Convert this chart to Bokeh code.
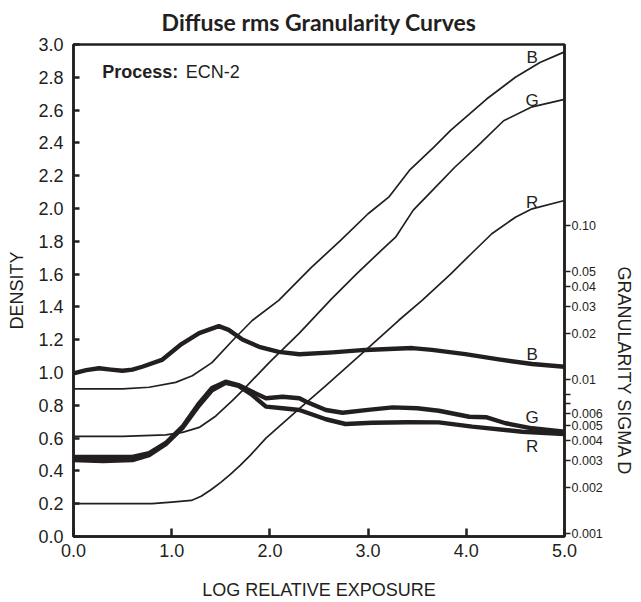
import math
from bokeh.plotting import figure
from bokeh.models import Range1d, LogAxis, FixedTicker, PrintfTickFormatter, Label, LogScale, Title
from bokeh.embed import file_html
from bokeh.resources import INLINE

# ---------------- data ----------------
# Characteristic (density) curves, thin lines, left axis
DENS_B_X = [0, 0.5, 0.77, 1.04, 1.21, 1.41, 1.62, 1.82, 2.09, 2.42, 2.72, 3.0, 3.21, 3.42, 3.67, 3.84, 4.21, 4.5, 4.75, 5.0]
DENS_B_Y = [0.90, 0.90, 0.91, 0.94, 0.98, 1.06, 1.195, 1.317, 1.44, 1.64, 1.805, 1.968, 2.069, 2.232, 2.374, 2.476, 2.669, 2.80, 2.89, 2.955]

DENS_G_X = [0, 0.5, 0.94, 1.11, 1.28, 1.45, 1.62, 1.72, 2.0, 2.3, 2.63, 2.88, 3.17, 3.28, 3.46, 3.67, 3.88, 4.13, 4.38, 4.67, 5.0]
DENS_G_Y = [0.61, 0.61, 0.62, 0.635, 0.665, 0.735, 0.83, 0.89, 1.065, 1.24, 1.45, 1.60, 1.765, 1.825, 1.99, 2.12, 2.25, 2.39, 2.535, 2.62, 2.665]

DENS_R_X = [0, 0.8, 1.0, 1.2, 1.3, 1.4, 1.5, 1.6, 1.7, 1.8, 1.96, 2.3, 2.57, 2.97, 3.31, 3.55, 3.84, 4.05, 4.26, 4.5, 4.67, 5.0]
DENS_R_Y = [0.20, 0.20, 0.21, 0.22, 0.245, 0.285, 0.33, 0.38, 0.435, 0.495, 0.60, 0.78, 0.92, 1.134, 1.317, 1.44, 1.60, 1.724, 1.846, 1.947, 1.998, 2.049]

# Diffuse rms granularity (sigma D), thick lines, right log axis
GRAN_B_X = [0, 0.13, 0.26, 0.38, 0.5, 0.6, 0.7, 0.9, 1.1, 1.28, 1.48, 1.58, 1.72, 1.89, 2.09, 2.30, 2.64, 2.97, 3.45, 3.65, 3.99, 4.33, 4.67, 5.0]
GRAN_B_S = [0.01097, 0.0115, 0.01183, 0.0116, 0.0114, 0.0116, 0.0121, 0.0134, 0.0170, 0.0200, 0.0222, 0.0210, 0.0182, 0.0163, 0.0151, 0.0146, 0.0150, 0.01556, 0.0160, 0.01556, 0.0146, 0.0135, 0.0126, 0.0121]

GRAN_G_X = [0, 0.6, 0.77, 0.94, 1.11, 1.28, 1.41, 1.55, 1.68, 1.82, 1.96, 2.13, 2.30, 2.37, 2.57, 2.74, 3.0, 3.25, 3.5, 3.72, 4.03, 4.20, 4.40, 4.67, 5.0]
GRAN_G_S = [0.00314, 0.00314, 0.00333, 0.00387, 0.00494, 0.00703, 0.00881, 0.00968, 0.0092, 0.00833, 0.00755, 0.00773, 0.00755, 0.00718, 0.00634, 0.00608, 0.00635, 0.00659, 0.00650, 0.00627, 0.00573, 0.00569, 0.0052, 0.00482, 0.00458]

GRAN_R_X = [0, 0.3, 0.6, 0.77, 0.94, 1.11, 1.28, 1.41, 1.55, 1.68, 1.82, 1.96, 2.13, 2.30, 2.57, 2.77, 3.04, 3.4, 3.72, 4.06, 4.57, 5.0]
GRAN_R_S = [0.0030, 0.00295, 0.0030, 0.00323, 0.0038, 0.00484, 0.0068, 0.0085, 0.0095, 0.0091, 0.00793, 0.00666, 0.0065, 0.00634, 0.00552, 0.00514, 0.00524, 0.00528, 0.00527, 0.00494, 0.00458, 0.00443]

X_TICKS = [0, 1, 2, 3, 4, 5]
Y_TICKS = [0.0, 0.2, 0.4, 0.6, 0.8, 1.0, 1.2, 1.4, 1.6, 1.8, 2.0, 2.2, 2.4, 2.6, 2.8, 3.0]
SIGMA_TICKS = [0.001, 0.002, 0.003, 0.004, 0.005, 0.006, 0.007, 0.008, 0.01, 0.02, 0.03, 0.04, 0.05, 0.1]
SIGMA_TICK_LABELS = ["0.001", "0.002", "0.003", "0.004", "0.005", "0.006", "", "", "0.01", "0.02", "0.03", "0.04", "0.05", "0.10"]

TITLE = "Diffuse rms Granularity Curves"
X_LABEL = "LOG RELATIVE EXPOSURE"
Y_LABEL = "DENSITY"
Y2_LABEL = "GRANULARITY SIGMA D"

INK = "#231f20"
FONT = "Liberation Sans"

# ---------------- figure ----------------
p = figure(frame_width=491, frame_height=492,
           min_border_left=73, min_border_right=77, min_border_top=44, min_border_bottom=66,
           x_range=Range1d(0, 5), y_range=Range1d(0, 3),
           output_backend="svg", toolbar_location=None, title=TITLE)
p.grid.visible = False
p.outline_line_color = INK
p.outline_line_width = 2.5
p.background_fill_color = "white"
p.border_fill_color = "white"

p.title.text_font = "Lato"
p.title.text_font_size = "23px"
p.title.text_font_style = "bold"
p.title.text_color = INK
p.title.align = "center"
p.title.vertical_align = "top"
p.title.standoff = 14

p.extra_y_ranges = {"sigma": Range1d(10 ** (-3 - 3 / 154.0), 10 ** (-3 + 489.0 / 154.0))}
p.extra_y_scales = {"sigma": LogScale()}

# axes styling
xa = p.xaxis[0]
xa.ticker = FixedTicker(ticks=X_TICKS)
xa.formatter = PrintfTickFormatter(format="%.1f")
xa.major_tick_in = 8
xa.major_tick_out = 0
xa.minor_tick_line_color = None
xa.major_label_standoff = 7
xa.axis_label = X_LABEL
xa.axis_label_standoff = 20

ya = p.yaxis[0]
ya.ticker = FixedTicker(ticks=Y_TICKS)
ya.formatter = PrintfTickFormatter(format="%.1f")
ya.major_tick_in = 6
ya.major_tick_out = 0
ya.minor_tick_line_color = None
ya.major_label_standoff = 10
ya.axis_label = Y_LABEL
ya.axis_label_standoff = 8

ra = LogAxis(y_range_name="sigma")
ra.ticker = FixedTicker(ticks=SIGMA_TICKS)
ra.major_label_overrides = {t: l for t, l in zip(SIGMA_TICKS, SIGMA_TICK_LABELS)}
ra.major_tick_in = 0
ra.major_tick_out = 6
ra.minor_tick_line_color = None
ra.major_label_standoff = 1
p.add_layout(ra, "right")

for ax in (xa, ya, ra):
    ax.axis_line_width = 2.5
    ax.axis_line_color = INK
    ax.major_tick_line_width = 2.5
    ax.major_tick_line_color = INK
    ax.major_label_text_font = FONT
    ax.major_label_text_color = INK
    ax.axis_label_text_font = FONT
    ax.axis_label_text_font_size = "18px"
    ax.axis_label_text_font_style = "normal"
    ax.axis_label_text_color = INK
for ax in (xa, ya):
    ax.major_label_text_font_size = "18px"
ra.major_label_text_font_size = "12.5px"
ra.major_tick_line_width = 1.5

# right-hand axis title, placed lower than the frame centre as in the original
rt = Title(text=Y2_LABEL, align="left", offset=222, standoff=17,
           text_font=FONT, text_font_size="18px", text_font_style="normal", text_color=INK)
p.add_layout(rt, "right")

# curves
for xs, ys in ((DENS_B_X, DENS_B_Y), (DENS_G_X, DENS_G_Y), (DENS_R_X, DENS_R_Y)):
    p.line(xs, ys, line_color=INK, line_width=1.7, line_join="round")
for xs, ss in ((GRAN_B_X, GRAN_B_S), (GRAN_G_X, GRAN_G_S), (GRAN_R_X, GRAN_R_S)):
    p.line(xs, ss, y_range_name="sigma", line_color=INK, line_width=4.4, line_join="round", line_cap="round")

def lab(x, y, text, size="18px", style="normal", align="center"):
    p.add_layout(Label(x=x, y=y, text=text, text_font=FONT, text_font_size=size,
                       text_font_style=style, text_color=INK, text_align=align,
                       text_baseline="middle"))

lab(0.292, 2.832, "Process:", style="bold", align="left")
lab(1.143, 2.832, "ECN-2", align="left")

# curve labels
for y, t in ((2.921, "B"), (2.656, "G"), (2.036, "R"), (1.111, "B"), (0.725, "G"), (0.547, "R")):
    lab(4.671, y, t, size="17px")

open("out.html", "w").write(file_html(p, INLINE))
